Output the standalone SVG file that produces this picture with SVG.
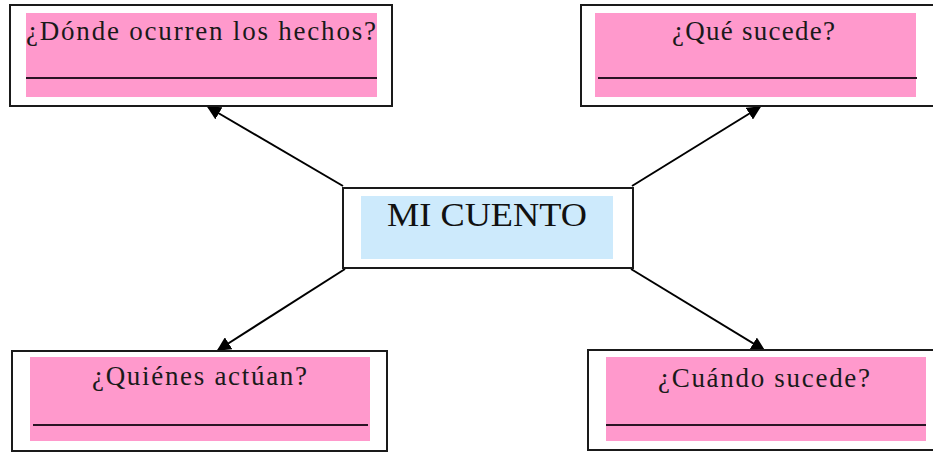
<svg xmlns="http://www.w3.org/2000/svg" width="933" height="452" viewBox="0 0 933 452">
<style>
.frame{fill:#ffffff;stroke:#1a1a1a;stroke-width:2}
.pink{fill:#ff99cc}
.blue{fill:#cdeafc}
.rule{stroke:#2a1424;stroke-width:2}
.lbl{font-family:"Liberation Serif","Times New Roman",serif;font-size:27px;fill:#1a1a1a}
.title{font-family:"Liberation Serif","Times New Roman",serif;font-size:34px;fill:#111}
.conn{stroke:#000;stroke-width:2;fill:none;marker-end:url(#ah)}
</style>
<defs>
<marker id="ah" viewBox="0 0 10 10" refX="9" refY="5" markerWidth="7" markerHeight="7" orient="auto" markerUnits="strokeWidth">
<path d="M0,0 L10,5 L0,10 z" fill="#000"/>
</marker>
</defs>
<rect width="933" height="452" fill="#ffffff"/>
<g id="connectors">
<line class="conn" x1="343" y1="186" x2="208" y2="107"/>
<line class="conn" x1="632" y1="186" x2="760" y2="107"/>
<line class="conn" x1="345" y1="269" x2="218" y2="350"/>
<line class="conn" x1="631" y1="269" x2="764" y2="350"/>
</g>
<g id="node-donde">
<rect class="frame" x="10" y="5" width="382" height="101"/>
<rect class="pink" x="26" y="13" width="351" height="84"/>
<line class="rule" x1="26" y1="78" x2="377" y2="78"/>
<text class="lbl" x="26" y="40" textLength="350" lengthAdjust="spacing">¿Dónde ocurren los hechos?</text>
</g>
<g id="node-que">
<rect class="frame" x="581" y="5" width="360" height="101"/>
<rect class="pink" x="595" y="13" width="321" height="84"/>
<line class="rule" x1="598" y1="78" x2="917" y2="78"/>
<text class="lbl" x="672" y="40" textLength="163" lengthAdjust="spacing">¿Qué sucede?</text>
</g>
<g id="node-cuento">
<rect class="frame" x="343" y="188" width="290" height="80"/>
<rect class="blue" x="361" y="196" width="252" height="63"/>
<text class="title" x="387" y="226" textLength="200" lengthAdjust="spacingAndGlyphs">MI CUENTO</text>
</g>
<g id="node-quienes">
<rect class="frame" x="12" y="351" width="375" height="100"/>
<rect class="pink" x="30" y="357" width="340" height="84"/>
<line class="rule" x1="33" y1="425" x2="368" y2="425"/>
<text class="lbl" x="92" y="385" textLength="215" lengthAdjust="spacing">¿Quiénes actúan?</text>
</g>
<g id="node-cuando">
<rect class="frame" x="588" y="350" width="360" height="100"/>
<rect class="pink" x="606" y="357" width="320" height="84"/>
<line class="rule" x1="606" y1="425" x2="926" y2="425"/>
<text class="lbl" x="658" y="387" textLength="212" lengthAdjust="spacing">¿Cuándo sucede?</text>
</g>
</svg>
